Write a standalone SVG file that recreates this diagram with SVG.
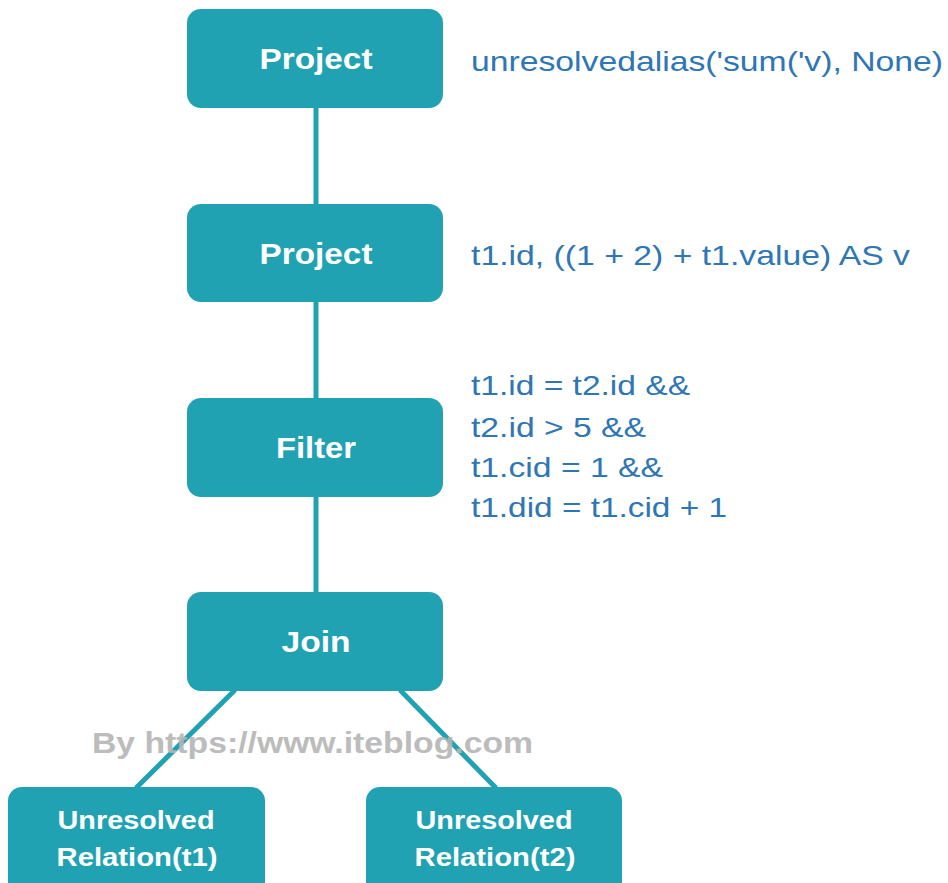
<svg xmlns="http://www.w3.org/2000/svg" width="948" height="883" viewBox="0 0 948 883">
  <style>
    .box { fill: #21a2b3; }
    .lbl { fill: #ffffff; font-family: "Liberation Sans", Arial, sans-serif; font-weight: bold; text-anchor: middle; }
    .big { font-size: 30px; }
    .small { font-size: 26px; }
    .note { fill: #2f76b5; font-family: "Liberation Sans", Arial, sans-serif; font-size: 28px; }
    .edge { stroke: #21a2b3; stroke-width: 5; fill: none; }
    .wm { fill: #b5b5b5; font-family: "Liberation Sans", Arial, sans-serif; font-size: 29px; font-weight: bold; opacity: 0.9; }
  </style>
  <rect width="948" height="883" fill="#ffffff"/>

  <!-- connectors -->
  <g id="connectors">
    <line class="edge" x1="316" y1="108" x2="316" y2="204"/>
    <line class="edge" x1="316" y1="302" x2="316" y2="398"/>
    <line class="edge" x1="316" y1="497" x2="316" y2="592"/>
    <line class="edge" x1="235" y1="690" x2="136" y2="788"/>
    <line class="edge" x1="400" y1="690" x2="496" y2="788"/>
  </g>

  <g id="project-top">
    <rect class="box" x="187" y="9" width="256" height="99" rx="14"/>
    <text class="lbl big" x="316" y="69" textLength="113" lengthAdjust="spacingAndGlyphs">Project</text>
  </g>
  <g id="project">
    <rect class="box" x="187" y="204" width="256" height="98" rx="14"/>
    <text class="lbl big" x="316" y="264" textLength="113" lengthAdjust="spacingAndGlyphs">Project</text>
  </g>
  <g id="filter">
    <rect class="box" x="187" y="398" width="256" height="99" rx="14"/>
    <text class="lbl big" x="316" y="458" textLength="80" lengthAdjust="spacingAndGlyphs">Filter</text>
  </g>
  <g id="join">
    <rect class="box" x="187" y="592" width="256" height="99" rx="14"/>
    <text class="lbl big" x="316" y="652" textLength="69" lengthAdjust="spacingAndGlyphs">Join</text>
  </g>
  <g id="relation-t1">
    <rect class="box" x="8" y="787" width="257" height="110" rx="14"/>
    <text class="lbl small" x="136" y="829" textLength="157" lengthAdjust="spacingAndGlyphs">Unresolved</text>
    <text class="lbl small" x="137" y="866" textLength="161" lengthAdjust="spacingAndGlyphs">Relation(t1)</text>
  </g>
  <g id="relation-t2">
    <rect class="box" x="366" y="787" width="256" height="110" rx="14"/>
    <text class="lbl small" x="494" y="829" textLength="157" lengthAdjust="spacingAndGlyphs">Unresolved</text>
    <text class="lbl small" x="495" y="866" textLength="161" lengthAdjust="spacingAndGlyphs">Relation(t2)</text>
  </g>

  <!-- annotations -->
  <g id="notes">
    <text class="note" x="471" y="71" textLength="472" lengthAdjust="spacingAndGlyphs">unresolvedalias('sum('v), None)</text>
    <text class="note" x="471" y="265" textLength="439" lengthAdjust="spacingAndGlyphs">t1.id, ((1 + 2) + t1.value) AS v</text>
    <text class="note" x="471" y="395" textLength="219" lengthAdjust="spacingAndGlyphs">t1.id = t2.id &amp;&amp;</text>
    <text class="note" x="471" y="437" textLength="175" lengthAdjust="spacingAndGlyphs">t2.id &gt; 5 &amp;&amp;</text>
    <text class="note" x="471" y="477" textLength="192" lengthAdjust="spacingAndGlyphs">t1.cid = 1 &amp;&amp;</text>
    <text class="note" x="471" y="517" textLength="256" lengthAdjust="spacingAndGlyphs">t1.did = t1.cid + 1</text>
  </g>

  <text class="wm" x="92" y="753" textLength="441" lengthAdjust="spacingAndGlyphs">By https://www.iteblog.com</text>
</svg>
